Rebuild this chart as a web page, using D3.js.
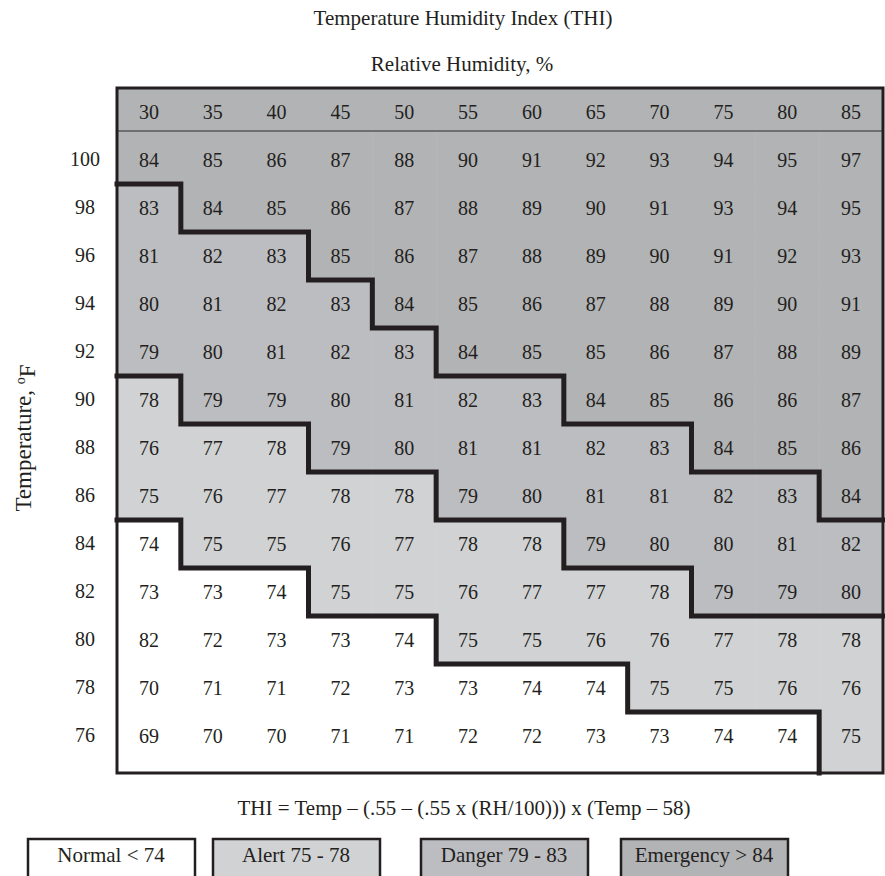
<!DOCTYPE html>
<html>
<head>
<meta charset="utf-8">
<script src="https://cdn.jsdelivr.net/npm/d3@7"></script>
<style>
  body { margin: 0; background: #fff; }
  text { font-family: "Liberation Serif", "Times New Roman", serif; fill: #231f20; }
</style>
</head>
<body>
<div id="chart"></div>
<script>
var humidity = [30, 35, 40, 45, 50, 55, 60, 65, 70, 75, 80, 85]
var temps = [100, 98, 96, 94, 92, 90, 88, 86, 84, 82, 80, 78, 76]

var thi = [
  [84, 85, 86, 87, 88, 90, 91, 92, 93, 94, 95, 97],
  [83, 84, 85, 86, 87, 88, 89, 90, 91, 93, 94, 95],
  [81, 82, 83, 85, 86, 87, 88, 89, 90, 91, 92, 93],
  [80, 81, 82, 83, 84, 85, 86, 87, 88, 89, 90, 91],
  [79, 80, 81, 82, 83, 84, 85, 85, 86, 87, 88, 89],
  [78, 79, 79, 80, 81, 82, 83, 84, 85, 86, 86, 87],
  [76, 77, 78, 79, 80, 81, 81, 82, 83, 84, 85, 86],
  [75, 76, 77, 78, 78, 79, 80, 81, 81, 82, 83, 84],
  [74, 75, 75, 76, 77, 78, 78, 79, 80, 80, 81, 82],
  [73, 73, 74, 75, 75, 76, 77, 77, 78, 79, 79, 80],
  [82, 72, 73, 73, 74, 75, 75, 76, 76, 77, 78, 78],
  [70, 71, 71, 72, 73, 73, 74, 74, 75, 75, 76, 76],
  [69, 70, 70, 71, 71, 72, 72, 73, 73, 74, 74, 75]
]

// N = normal, A = alert, D = danger, E = emergency
var zones = [
  "EEEEEEEEEEEE",
  "DEEEEEEEEEEE",
  "DDDEEEEEEEEE",
  "DDDDEEEEEEEE",
  "DDDDDEEEEEEE",
  "ADDDDDDEEEEE",
  "AAADDDDDDEEE",
  "AAAAADDDDDDE",
  "NAAAAAADDDDD",
  "NNNAAAAAADDD",
  "NNNNNAAAAAAA",
  "NNNNNNNNAAAA",
  "NNNNNNNNNNNA"
]

var zoneCodes = ["N", "A", "D", "E"]
var legendLabels = ["Normal < 74", "Alert 75 - 78", "Danger 79 - 83", "Emergency > 84"]

var width = 885
var height = 876
var left = 117, right = 883
var tableTop = 88, headerBottom = 131, bodyTop = 136, bodyBottom = 760, tableBottom = 773
var legendX = [28, 213, 421, 621]

var color = d3.scaleOrdinal()
  .domain(zoneCodes)
  .range(["#ffffff", "#d1d2d4", "#bcbdc0", "#b2b3b5"])

var x = d3.scaleBand().domain(humidity).range([left, right])
var y = d3.scaleBand().domain(temps).range([bodyTop, bodyBottom])

var svg = d3.select('#chart').append('svg')
  .attr('width', width)
  .attr('height', height)

// header band
svg.append('rect')
  .attr('x', left).attr('y', tableTop)
  .attr('width', right - left).attr('height', headerBottom - tableTop)
  .attr('fill', color('E'))

var cells = []
temps.forEach(function(t, i){
  humidity.forEach(function(h, j){
    cells.push({t: t, h: h, i: i, j: j, v: thi[i][j], z: zones[i][j]})
  })
})

function cellTop(d){ return d.i == 0 ? headerBottom : y(d.t) }
function cellBottom(d){ return d.i == temps.length - 1 ? tableBottom : y(d.t) + y.bandwidth() }

svg.append('g').selectAll('rect')
  .data(cells)
  .enter().append('rect')
  .attr('x', function(d){ return x(d.h) })
  .attr('y', cellTop)
  .attr('width', x.bandwidth() + 0.5)
  .attr('height', function(d){ return cellBottom(d) - cellTop(d) + 0.5 })
  .attr('fill', function(d){ return color(d.z) })

svg.append('g').selectAll('text')
  .data(cells)
  .enter().append('text')
  .attr('x', function(d){ return x(d.h) + x.bandwidth() / 2 })
  .attr('y', function(d){ return y(d.t) + y.bandwidth() / 2 })
  .attr('dy', '0.35em')
  .attr('text-anchor', 'middle')
  .style('font-size', '20px')
  .text(function(d){ return d.v })

// header separator
svg.append('line')
  .attr('x1', left).attr('x2', right)
  .attr('y1', headerBottom).attr('y2', headerBottom)
  .attr('stroke', '#58595b').attr('stroke-width', 1.5)

// zone boundaries
var segs = []
cells.forEach(function(d){
  var x0 = x(d.h), x1 = x0 + x.bandwidth()
  var y0 = cellTop(d), y1 = cellBottom(d)
  if (d.j < humidity.length - 1 && zones[d.i][d.j + 1] != d.z) segs.push([[x1, y0], [x1, y1]])
  if (d.i < temps.length - 1 && zones[d.i + 1][d.j] != d.z) segs.push([[x0, y1], [x1, y1]])
})
svg.append('path')
  .attr('d', segs.map(function(s){ return 'M' + s[0] + 'L' + s[1] }).join(''))
  .attr('fill', 'none')
  .attr('stroke', '#231f20')
  .attr('stroke-width', 5)
  .attr('stroke-linecap', 'square')

// outer border
svg.append('rect')
  .attr('x', left).attr('y', tableTop)
  .attr('width', right - left).attr('height', tableBottom - tableTop)
  .attr('fill', 'none')
  .attr('stroke', '#231f20')
  .attr('stroke-width', 3)

// column labels
var xAxis = d3.axisTop(x).tickSize(0).tickPadding(0)
var gx = svg.append('g')
  .attr('transform', 'translate(0,' + ((tableTop + headerBottom) / 2 + 2) + ')')
  .attr('font-family', null)
  .call(xAxis)
gx.attr('font-family', null).attr('font-size', null)
gx.select('.domain').remove()
gx.selectAll('text')
  .attr('dy', '0.35em')
  .attr('y', 0)
  .attr('fill', null)
  .style('font-size', '20px')

// row labels
var yAxis = d3.axisLeft(y).tickSize(0).tickPadding(0)
var gy = svg.append('g')
  .attr('transform', 'translate(85,0)')
  .call(yAxis)
gy.attr('font-family', null).attr('font-size', null)
gy.select('.domain').remove()
gy.selectAll('text')
  .attr('text-anchor', 'middle')
  .attr('x', 0)
  .attr('fill', null)
  .style('font-size', '20px')

svg.append('text')
  .attr('x', 463).attr('y', 25)
  .attr('text-anchor', 'middle')
  .style('font-size', '21px')
  .text('Temperature Humidity Index (THI)')

svg.append('text')
  .attr('x', 462).attr('y', 71)
  .attr('text-anchor', 'middle')
  .style('font-size', '21px')
  .text('Relative Humidity, %')

var yt = svg.append('text')
  .attr('transform', 'translate(31,438) rotate(-90)')
  .attr('text-anchor', 'middle')
  .style('font-size', '23px')
yt.append('tspan').text('Temperature, ')
yt.append('tspan').attr('dy', '-0.45em').style('font-size', '14px').text('o')
yt.append('tspan').attr('dy', '0.45em').text('F')

svg.append('text')
  .attr('x', 464).attr('y', 815)
  .attr('text-anchor', 'middle')
  .style('font-size', '21px')
  .text('THI = Temp \u2013 (.55 \u2013 (.55 x (RH/100))) x (Temp \u2013 58)')

// legend
var legend = svg.append('g').selectAll('g')
  .data(zoneCodes)
  .enter().append('g')
  .attr('transform', function(d, i){ return 'translate(' + legendX[i] + ',839)' })

legend.append('rect')
  .attr('width', 167)
  .attr('height', 60)
  .attr('fill', function(d){ return color(d) })
  .attr('stroke', '#231f20')
  .attr('stroke-width', 2.5)

legend.append('text')
  .attr('x', 83)
  .attr('y', 23)
  .attr('text-anchor', 'middle')
  .style('font-size', '21px')
  .text(function(d, i){ return legendLabels[i] })
</script>
</body>
</html>
